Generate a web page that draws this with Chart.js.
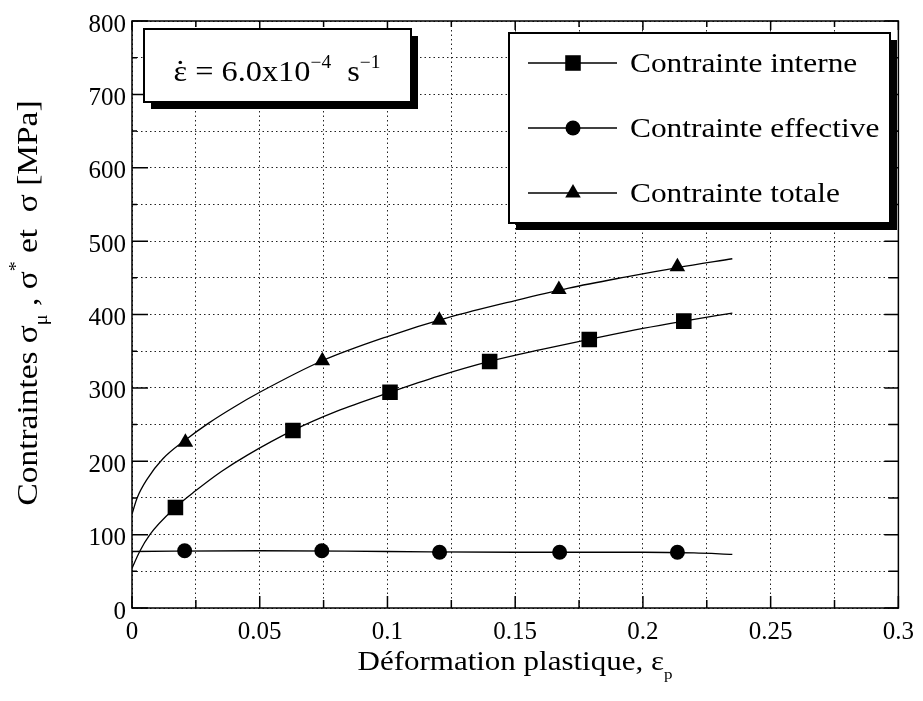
<!DOCTYPE html>
<html><head><meta charset="utf-8">
<script src="https://cdn.jsdelivr.net/npm/chart.js@4.4.1/dist/chart.umd.min.js"></script>
<style>html,body{margin:0;padding:0;background:#fff}#wrap{position:relative;width:923px;height:701px}</style>
</head><body><div id="wrap"><canvas id="c"></canvas></div>
<script>
// ---- data ----
const seriesNames = ['Contrainte interne', 'Contrainte effective', 'Contrainte totale'];
// measured points (markers)
const interneX = [0.017, 0.063, 0.101, 0.140, 0.179, 0.216];
const interneY = [137, 242, 294, 336, 366, 391];
const effectiveX = [0.0206, 0.0743, 0.1204, 0.1674, 0.2135];
const effectiveY = [78, 78, 76, 76, 76];
const totaleX = [0.0209, 0.0745, 0.1203, 0.1671, 0.2135];
const totaleY = [226, 337, 392, 434, 465];
// fitted curves
const interneCurveX = [0, 0.003, 0.007, 0.017, 0.025, 0.035, 0.045, 0.063, 0.08, 0.101, 0.12, 0.14, 0.16, 0.179, 0.2, 0.216, 0.235];
const interneCurveY = [54, 77, 100, 137, 160, 186, 208, 242, 268, 294, 316, 336, 352, 366, 381, 391, 402];
const effectiveCurveX = [0, 0.05, 0.1, 0.15, 0.2, 0.22, 0.235];
const effectiveCurveY = [77, 78, 77, 76, 76, 75, 73];
const totaleCurveX = [0, 0.002, 0.006, 0.012, 0.0209, 0.03, 0.04, 0.05, 0.0745, 0.1, 0.124, 0.15, 0.171, 0.193, 0.2135, 0.235];
const totaleCurveY = [128, 150, 176, 203, 229, 252, 274, 294, 337, 370, 396, 419, 436, 451, 464, 476];
// axes
const xTickLabels = ['0', '0.05', '0.1', '0.15', '0.2', '0.25', '0.3'];
const yTickLabels = ['0', '100', '200', '300', '400', '500', '600', '700', '800'];

const SERIF = '"Liberation Serif", "DejaVu Serif", serif';
const pts = (xs, ys) => xs.map((x, i) => ({x, y: ys[i]}));

function drawRich(ctx, parts, size, cx, baseline, targetW, rotate) {
  ctx.save();
  let w = 0;
  for (const p of parts) { ctx.font = (size * (p.s || 1)) + 'px ' + SERIF; w += ctx.measureText(p.t).width; }
  const sx = targetW ? targetW / w : 1;
  ctx.translate(cx, baseline);
  if (rotate) ctx.rotate(rotate);
  ctx.scale(sx, 1);
  ctx.fillStyle = '#000';
  ctx.textBaseline = 'alphabetic';
  ctx.textAlign = 'left';
  let x = -w / 2;
  for (const p of parts) {
    ctx.font = (size * (p.s || 1)) + 'px ' + SERIF;
    const pw = ctx.measureText(p.t).width;
    ctx.fillText(p.t, x, (p.dy || 0) * size);
    if (p.dot) {
      ctx.beginPath();
      ctx.arc(x + pw * 0.5, -size * 0.62, size * 0.055, 0, Math.PI * 2);
      ctx.fill();
    }
    x += pw;
  }
  ctx.restore();
}

function shadowBox(ctx, x1, y1, x2, y2, off) {
  ctx.save();
  ctx.fillStyle = '#000';
  ctx.fillRect(x1 + off, y1 + off, x2 - x1, y2 - y1);
  ctx.fillStyle = '#fff';
  ctx.fillRect(x1, y1, x2 - x1, y2 - y1);
  ctx.lineWidth = 2;
  ctx.strokeStyle = '#000';
  ctx.strokeRect(x1, y1, x2 - x1, y2 - y1);
  ctx.restore();
}

const markerStyles = [
  {pointStyle: 'rect', radius: 11},
  {pointStyle: 'circle', radius: 7.5},
  {pointStyle: 'triangle', radius: 9}
];

const decor = {
  id: 'decor',
  afterDraw(chart) {
    const ctx = chart.ctx;
    const a = chart.chartArea;
    const xs = chart.scales.x, ys = chart.scales.y;
    ctx.save();
    // frame
    ctx.strokeStyle = '#000';
    ctx.lineWidth = 1.5;
    ctx.strokeRect(a.left, a.top, a.right - a.left, a.bottom - a.top);
    // inside ticks
    ctx.lineWidth = 1.5;
    ctx.beginPath();
    for (let v = 0; v <= 800; v += 50) {
      const y = ys.getPixelForValue(v);
      const major = v % 100 === 0;
      ctx.moveTo(a.left, y); ctx.lineTo(a.left + (major ? 16 : 5), y);
      ctx.moveTo(a.right, y); ctx.lineTo(a.right - (major ? 14 : 10), y);
    }
    for (let k = 0; k <= 12; k++) {
      const x = xs.getPixelForValue(k * 0.025);
      const major = k % 2 === 0;
      ctx.moveTo(x, a.bottom); ctx.lineTo(x, a.bottom - (major ? 12 : 8));
      ctx.moveTo(x, a.top); ctx.lineTo(x, a.top + (major ? 9 : 6));
    }
    ctx.stroke();
    ctx.restore();

    // rate box
    shadowBox(ctx, 144, 29, 411, 102, 7);
    drawRich(ctx, [
      {t: 'ε', dot: true}, {t: ' = 6.0x10'}, {t: '\u2212' + '4', s: 0.6, dy: -0.42}, {t: '  s'}, {t: '\u2212' + '1', s: 0.6, dy: -0.42}
    ], 30, 277, 81, 207);

    // legend box
    shadowBox(ctx, 509, 33, 890, 223, 7);
    const rows = [63, 128, 193];
    rows.forEach((ry, i) => {
      ctx.save();
      ctx.strokeStyle = '#000'; ctx.fillStyle = '#000'; ctx.lineWidth = 1.3;
      ctx.beginPath(); ctx.moveTo(528, ry); ctx.lineTo(617, ry); ctx.stroke();
      Chart.helpers.drawPoint(ctx, {pointStyle: markerStyles[i].pointStyle, radius: markerStyles[i].radius, rotation: 0, borderWidth: 0}, 573, ry);
      ctx.restore();
      ctx.save();
      ctx.font = '28px ' + SERIF;
      const w = ctx.measureText(seriesNames[i]).width;
      ctx.restore();
      drawRich(ctx, [{t: seriesNames[i]}], 28, 630 + (w * 1.12) / 2, ry + 9, w * 1.12);
    });

    // axis titles
    drawRich(ctx, [{t: 'Déformation plastique, ε'}, {t: 'p', s: 0.55, dy: 0.35}], 27, 515, 670, 315);
    drawRich(ctx, [
      {t: 'Contraintes σ'}, {t: 'μ', s: 0.6, dy: 0.32}, {t: ' , σ'}, {t: '*', s: 0.6, dy: -0.5}, {t: ' et  σ [MPa]'}
    ], 30, 37, 303, 405, -Math.PI / 2);
  }
};

const lineDs = (label, xs, ys) => ({
  label, data: pts(xs, ys), showLine: true, pointRadius: 0, borderColor: '#000', borderWidth: 1.3,
  cubicInterpolationMode: 'monotone', fill: false
});
const markDs = (label, xs, ys, i) => ({
  label, data: pts(xs, ys), showLine: false, pointStyle: markerStyles[i].pointStyle,
  pointRadius: markerStyles[i].radius, pointBackgroundColor: '#000', pointBorderWidth: 0, borderColor: '#000'
});

new Chart(document.getElementById('c'), {
  type: 'scatter',
  data: {
    datasets: [
      lineDs(seriesNames[0] + ' (fit)', interneCurveX, interneCurveY),
      lineDs(seriesNames[1] + ' (fit)', effectiveCurveX, effectiveCurveY),
      lineDs(seriesNames[2] + ' (fit)', totaleCurveX, totaleCurveY),
      markDs(seriesNames[0], interneX, interneY, 0),
      markDs(seriesNames[1], effectiveX, effectiveY, 1),
      markDs(seriesNames[2], totaleX, totaleY, 2)
    ]
  },
  options: {
    responsive: true, maintainAspectRatio: false, animation: false,
    layout: {padding: {top: 21, right: 21, left: 0, bottom: 0}},
    plugins: {legend: {display: false}, tooltip: {enabled: false}},
    scales: {
      x: {
        type: 'linear', min: 0, max: 0.3,
        afterFit: s => { s.height = 93; },
        ticks: {
          stepSize: 0.025, autoSkip: false, maxRotation: 0, padding: 9, color: '#000',
          font: {family: SERIF, size: 25},
          callback: v => { const k = Math.round(v * 1000); return k % 50 === 0 ? xTickLabels[k / 50] : ''; }
        },
        grid: {color: '#222', lineWidth: 1, drawTicks: false},
        border: {display: false, dash: [1.5, 3]}
      },
      y: {
        min: 0, max: 800,
        afterFit: s => { s.width = 132; },
        ticks: {
          stepSize: 50, autoSkip: false, padding: 6, color: '#000', labelOffset: 4,
          font: {family: SERIF, size: 25},
          callback: v => (Math.round(v) % 100 === 0 ? yTickLabels[Math.round(v) / 100] : '')
        },
        grid: {color: '#222', lineWidth: 1, drawTicks: false},
        border: {display: false, dash: [1.5, 3]}
      }
    }
  },
  plugins: [decor]
});
</script></body></html>
